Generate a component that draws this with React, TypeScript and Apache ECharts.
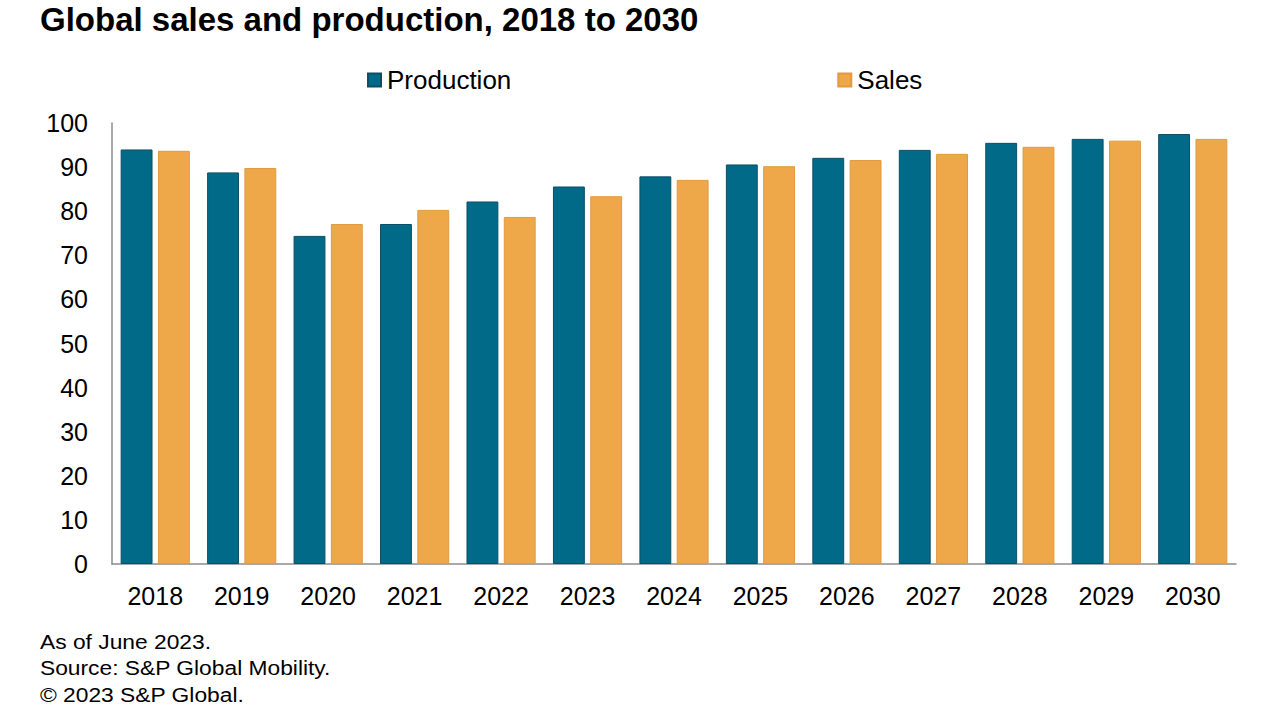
import React, { useEffect, useRef } from "react";
import * as echarts from "echarts";

const years = ["2018", "2019", "2020", "2021", "2022", "2023", "2024", "2025", "2026", "2027", "2028", "2029", "2030"];
const production = [94.0, 88.8, 74.4, 77.1, 82.2, 85.6, 87.9, 90.6, 92.1, 93.9, 95.5, 96.4, 97.5];
const sales = [93.7, 89.8, 77.1, 80.3, 78.7, 83.4, 87.1, 90.2, 91.6, 93.0, 94.6, 96.0, 96.4];
const seriesNames = ["Production", "Sales"];
const titleText = "Global sales and production, 2018 to 2030";
const footnotes = ["As of June 2023.", "Source: S&P Global Mobility.", "© 2023 S&P Global."];

const FONT = "'Liberation Sans', Arial, Helvetica, sans-serif";
const TEAL = "#016a89";
const ORANGE = "#eea84a";

export default function App() {
  const ref = useRef<HTMLDivElement>(null);
  useEffect(() => {
    if (!ref.current) return;
    const chart = echarts.init(ref.current, null, { renderer: "svg" });
    chart.setOption({
      animation: false,
      backgroundColor: "#ffffff",
      textStyle: { fontFamily: FONT },
      title: {
        text: titleText,
        left: 40,
        top: 3,
        padding: 0,
        textStyle: { fontFamily: FONT, fontSize: 33, fontWeight: "bold", color: "#000000" },
      },
      legend: {
        data: seriesNames,
        left: 367,
        top: 67,
        padding: 0,
        itemWidth: 13,
        itemHeight: 13,
        itemGap: 326,
        icon: "rect",
        textStyle: { fontFamily: FONT, fontSize: 26, color: "#000000", padding: [0, 0, 0, 1] },
      },
      grid: { left: 112, right: 44, top: 123, bottom: 156, containLabel: false },
      xAxis: {
        type: "category",
        data: years,
        axisLine: { show: true, lineStyle: { color: "#8c8c8c", width: 1.5 } },
        axisTick: { show: false },
        axisLabel: { fontFamily: FONT, fontSize: 25, color: "#000000", margin: 19 },
      },
      yAxis: {
        type: "value",
        min: 0,
        max: 100,
        interval: 10,
        axisLine: { show: true, lineStyle: { color: "#8c8c8c", width: 1.5 } },
        axisTick: { show: false },
        splitLine: { show: false },
        axisLabel: { fontFamily: FONT, fontSize: 25, color: "#000000", margin: 24 },
      },
      series: [
        {
          name: seriesNames[0],
          type: "bar",
          data: production,
          barCategoryGap: "20%",
          barGap: "17%",
          itemStyle: { color: TEAL, borderColor: "#0b4f66", borderWidth: 1 },
        },
        {
          name: seriesNames[1],
          type: "bar",
          data: sales,
          barCategoryGap: "20%",
          barGap: "17%",
          itemStyle: { color: ORANGE, borderColor: "#e09a3f", borderWidth: 1 },
        },
      ],
      graphic: footnotes.map((t, i) => ({
        type: "text",
        left: 40,
        top: 631 + i * 26.7,
        style: { text: t, fontFamily: FONT, fontSize: 21, fill: "#000000" },
        scaleX: 1.085,
      })),
    });
    return () => chart.dispose();
  }, []);
  return (
    <div
      ref={ref}
      style={{ position: "fixed", left: 0, top: 0, width: 1280, height: 720, background: "#fff" }}
    />
  );
}
